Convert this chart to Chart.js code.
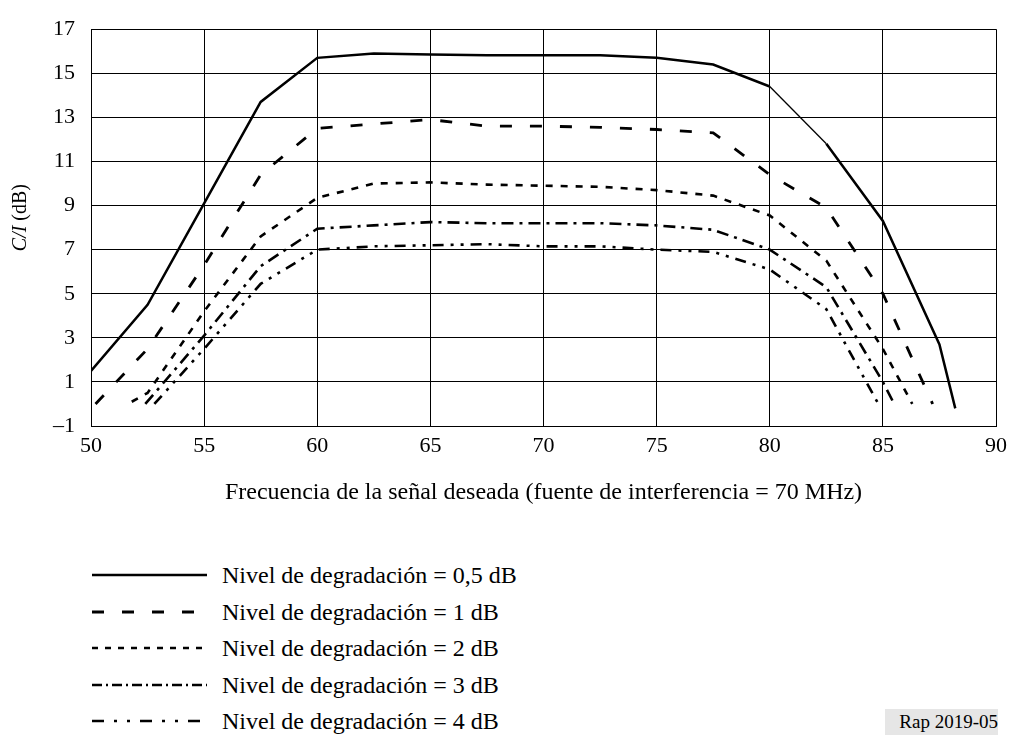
<!DOCTYPE html>
<html>
<head>
<meta charset="utf-8">
<script src="https://cdn.jsdelivr.net/npm/chart.js@4.4.1/dist/chart.umd.min.js"></script>
<style>
  body { margin: 0; background: #fff; font-family: "Liberation Serif", "Times New Roman", serif; }
  #wrap { position: relative; width: 1014px; height: 737px; overflow: hidden; }
  #cv { position: absolute; left: 0; top: 0; }
  .leg { position: absolute; left: 92px; height: 30px; display: flex; align-items: center; font-size: 24px; color: #000; white-space: nowrap; }
  .leg svg { width: 115px; height: 10px; margin-right: 15px; }
  #tag { position: absolute; left: 885px; top: 709px; width: 113px; height: 26px; background: #e6e6e6; font-size: 19px; line-height: 26px; text-align: right; }
</style>
</head>
<body>
<div id="wrap">
  <canvas id="cv" width="1014" height="520"></canvas>
  <div id="legend"></div>
  <div id="tag">Rap 2019-05</div>
</div>
<script>
// curvas (frecuencia en MHz, C/I en dB)
const freq05 = [50, 52.5, 55, 57.5, 60, 62.5, 65, 67.5, 70, 72.5, 75, 77.5, 80, 82.5, 85, 87.5, 88.2];
const ci05   = [1.5, 4.5, 9.1, 13.7, 15.7, 15.9, 15.85, 15.82, 15.82, 15.82, 15.7, 15.4, 14.4, 11.8, 8.3, 2.7, -0.2];

const freq1 = [50.2, 52.5, 55, 57.5, 60, 62.5, 65, 67.5, 70, 72.5, 75, 77.5, 80, 82.5, 85, 87.2];
const ci1   = [0, 2.5, 6.3, 10.4, 12.5, 12.7, 12.9, 12.6, 12.6, 12.55, 12.45, 12.3, 10.4, 8.9, 5.0, 0];

const freq2 = [51.8, 52.5, 55, 57.5, 60, 62.5, 65, 67.5, 70, 72.5, 75, 77.5, 80, 82.5, 85, 86.3];
const ci2   = [0.1, 0.5, 4.2, 7.6, 9.35, 10.0, 10.05, 9.95, 9.9, 9.85, 9.7, 9.45, 8.55, 6.5, 2.5, 0];

const freq3 = [52.4, 55, 57.5, 60, 62.5, 65, 67.5, 70, 72.5, 75, 77.5, 80, 82.5, 85, 85.5];
const ci3   = [0, 3.1, 6.25, 7.95, 8.1, 8.25, 8.2, 8.2, 8.2, 8.1, 7.9, 7.0, 5.3, 1.0, 0];

const freq4 = [52.8, 55, 57.5, 60, 62.5, 65, 67.5, 70, 72.5, 75, 77.5, 80, 82.5, 84.8];
const ci4   = [0, 2.5, 5.45, 7.0, 7.15, 7.2, 7.25, 7.15, 7.15, 7.0, 6.9, 6.1, 4.3, 0];

const levels = ['0,5', '1', '2', '3', '4'];
const xTicks = { min: 50, max: 90, step: 5 };
const yTicks = { min: -1, max: 17, step: 2 };

const pts = (xs, ys) => xs.map((x, i) => ({ x: x, y: ys[i] }));

// trazos: plot y leyenda
const plotDash = [[], [12, 18], [7, 8], [12, 6, 3, 6], [11, 7, 3, 7, 3, 7]];
const legDash  = ['', '12 18', '6 7', '10 4 2 4', '12 10 3 10 3 10'];
const widths   = [2.5, 2.8, 2.6, 2.6, 2.6];

const seriesData = [pts(freq05, ci05), pts(freq1, ci1), pts(freq2, ci2), pts(freq3, ci3), pts(freq4, ci4)];

const datasets = seriesData.map((d, i) => ({
    label: 'Nivel de degradación = ' + levels[i] + ' dB',
    data: d,
    borderColor: '#000',
    borderWidth: widths[i],
    borderDash: plotDash[i],
    pointRadius: 0,
    tension: 0,
    fill: false,
    segment: i === 0 ? { borderWidth: c => (c.p0.parsed.x === 80 ? 1.3 : widths[0]) } : undefined
}));

// título del eje Y con C/I en cursiva
const yTitle = {
    id: 'yTitle',
    afterDraw(chart) {
        const ctx = chart.ctx, a = chart.chartArea;
        const fi = 'italic 20px "Liberation Serif"', fr = '20px "Liberation Serif"';
        ctx.save();
        ctx.translate(21, (a.top + a.bottom) / 2 - 10);
        ctx.rotate(-Math.PI / 2);
        ctx.fillStyle = '#000';
        ctx.textBaseline = 'middle';
        ctx.font = fi; const w1 = ctx.measureText('C/I').width;
        ctx.font = fr; const w2 = ctx.measureText(' (dB)').width;
        let x = -(w1 + w2) / 2;
        ctx.font = fi; ctx.fillText('C/I', x, 0);
        ctx.font = fr; ctx.fillText(' (dB)', x + w1, 0);
        ctx.restore();
    }
};

new Chart(document.getElementById('cv').getContext('2d'), {
    type: 'line',
    data: { datasets: datasets },
    options: {
        responsive: false, animation: false,
        layout: { padding: { top: 18, right: 16, left: 0, bottom: 0 } },
        plugins: { legend: { display: false }, tooltip: { enabled: false } },
        scales: {
            x: {
                type: 'linear', min: xTicks.min, max: xTicks.max,
                afterFit: s => { s.height = 94; },
                ticks: { stepSize: xTicks.step, color: '#000', padding: 7, maxRotation: 0, font: { family: 'Liberation Serif', size: 22 } },
                grid: { color: '#000', lineWidth: 1, drawTicks: false },
                border: { color: '#000', width: 1 },
                title: { display: true, text: 'Frecuencia de la señal deseada (fuente de interferencia = 70 MHz)', color: '#000', padding: { top: 0, bottom: 13 }, font: { family: 'Liberation Serif', size: 24 } }
            },
            y: {
                type: 'linear', min: yTicks.min, max: yTicks.max,
                afterFit: s => { s.width = 91; },
                ticks: { stepSize: yTicks.step, color: '#000', padding: 16, font: { family: 'Liberation Serif', size: 22 },
                    callback: v => (v < 0 ? '\u2013' + Math.abs(v) : String(v)) },
                grid: { color: '#000', lineWidth: 1, drawTicks: false },
                border: { color: '#000', width: 1 }
            }
        }
    },
    plugins: [yTitle]
});

// leyenda en HTML
const rowY = [575, 612, 648, 685, 721];
const legend = document.getElementById('legend');
datasets.forEach((ds, i) => {
    const row = document.createElement('div');
    row.className = 'leg';
    row.style.top = (rowY[i] - 15) + 'px';
    row.innerHTML = '<svg viewBox="0 0 115 10"><line x1="0" y1="5" x2="115" y2="5" stroke="#000" stroke-width="' + widths[i] + '"' +
        (legDash[i] ? ' stroke-dasharray="' + legDash[i] + '"' : '') + '/></svg><span></span>';
    row.querySelector('span').textContent = ds.label;
    legend.appendChild(row);
});
</script>
</body>
</html>
